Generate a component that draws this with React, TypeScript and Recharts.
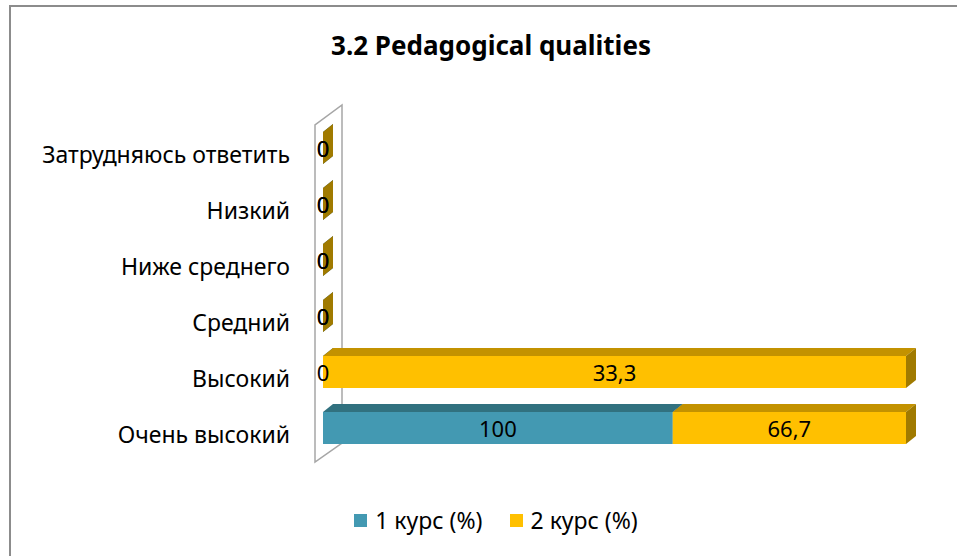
import React from 'react';
import { BarChart, Bar, XAxis, YAxis, Legend, LabelList, ReferenceLine } from 'recharts';

const categories = ['Очень высокий', 'Высокий', 'Средний', 'Ниже среднего', 'Низкий', 'Затрудняюсь ответить'];
const course1 = [100, 0, 0, 0, 0, 0];
const course2 = [66.7, 33.3, 0, 0, 0, 0];
const seriesNames = ['1 курс (%)', '2 курс (%)'];

const data = categories.map((name, i) => ({ name, c1: course1[i], c2: course2[i] }));

const FONT = '"Noto Sans", "Open Sans", sans-serif';
const DX = 10;
const DY = 8;

// front / top / side shades for the fake 3D bars
const BLUE = ['#4399B2', '#31717F', '#2C6575'];
const GOLD = ['#FFC000', '#C39200', '#A07A00'];

const make3DBar = (shades: string[]) => (props: any) => {
    const { x, y, width, height } = props;
    const w = Math.max(0, width || 0);
    const h = height || 0;
    return (
        <g>
            <polygon points={`${x},${y} ${x + DX},${y - DY} ${x + w + DX},${y - DY} ${x + w},${y}`} fill={shades[1]} />
            <polygon points={`${x + w},${y} ${x + w + DX},${y - DY} ${x + w + DX},${y + h - DY} ${x + w},${y + h}`} fill={shades[2]} />
            {w > 0 && <rect x={x} y={y} width={w} height={h} fill={shades[0]} />}
        </g>
    );
};

const makeLabel = (raw: number[]) => (props: any) => {
    const vb = props.viewBox || props;
    const { x, y, width, height } = vb;
    const v = typeof props.value === 'number' ? props.value : raw[props.index];
    return (
        <text x={x + width / 2} y={y + height / 2} textAnchor="middle" dominantBaseline="central"
            fontSize={22} fontFamily={FONT} fill="#000">
            {String(v).replace('.', ',')}
        </text>
    );
};

// back wall of the 3D plot, hung on the zero line
const Wall = (props: any) => {
    const { x1, y1, x2, y2 } = props;
    const x0 = Math.min(x1, x2);
    const top = Math.min(y1, y2);
    const bottom = Math.max(y1, y2);
    const pts = [[x0 - 8, bottom + 6], [x0 - 8, top + 5], [x0 + 19, top - 15], [x0 + 19, bottom - 13]];
    return <polygon points={pts.map(p => p.join(',')).join(' ')} fill="none" stroke="#a6a6a6" strokeWidth={1.5} />;
};

const CategoryTick = (props: any) => {
    const { x, y, payload } = props;
    return (
        <text x={x} y={y} dy={6} textAnchor="end" dominantBaseline="central" fontSize={23} fontFamily={FONT} fill="#000">
            {payload.value}
        </text>
    );
};

const LegendContent = () => (
    <div style={{ display: 'flex', justifyContent: 'center', alignItems: 'center', fontFamily: FONT, fontSize: 23, color: '#000' }}>
        {seriesNames.map((n, i) => (
            <div key={n} style={{ display: 'flex', alignItems: 'center', marginRight: i === 0 ? 27 : 0 }}>
                <span style={{ width: 13, height: 13, background: i === 0 ? BLUE[0] : GOLD[0], marginRight: 8, display: 'inline-block' }} />
                <span>{n}</span>
            </div>
        ))}
    </div>
);

export default function App() {
    return (
        <div style={{ position: 'absolute', left: 0, top: 0, width: 957, height: 556, background: '#fff', overflow: 'hidden' }}>
            <div style={{ position: 'absolute', left: 9, top: 5, width: 1000, height: 600, borderLeft: '2px solid #8c8c8c', borderTop: '2px solid #8c8c8c' }} />
            <div style={{ position: 'absolute', left: 0, width: 982, top: 27, textAlign: 'center', fontFamily: FONT, fontWeight: 700, fontSize: 26, color: '#000' }}>
                3.2 Pedagogical qualities
            </div>
            <div style={{ position: 'absolute', left: 0, top: 0 }}>
                <BarChart width={957} height={556} data={data} layout="vertical" stackOffset="expand"
                    margin={{ top: 120, right: 51, bottom: 100, left: 0 }}>
                    <XAxis type="number" domain={[0, 1]} hide />
                    <YAxis type="category" dataKey="name" reversed width={323} axisLine={false} tickLine={false}
                        tickSize={0} tickMargin={33} tick={<CategoryTick />} interval={0} />
                    <ReferenceLine x={0} shape={<Wall />} zIndex={-10} />
                    <Bar dataKey="c1" name={seriesNames[0]} stackId="a" barSize={32} fill={BLUE[0]}
                        shape={make3DBar(BLUE)} isAnimationActive={false}>
                        <LabelList dataKey="c1" content={makeLabel(course1)} />
                    </Bar>
                    <Bar dataKey="c2" name={seriesNames[1]} stackId="a" barSize={32} fill={GOLD[0]}
                        shape={make3DBar(GOLD)} isAnimationActive={false}>
                        <LabelList dataKey="c2" content={makeLabel(course2)} />
                    </Bar>
                    <Legend verticalAlign="middle" align="center" wrapperStyle={{ top: 504, left: 0, width: 992 }}
                        content={<LegendContent />} />
                </BarChart>
            </div>
        </div>
    );
}
